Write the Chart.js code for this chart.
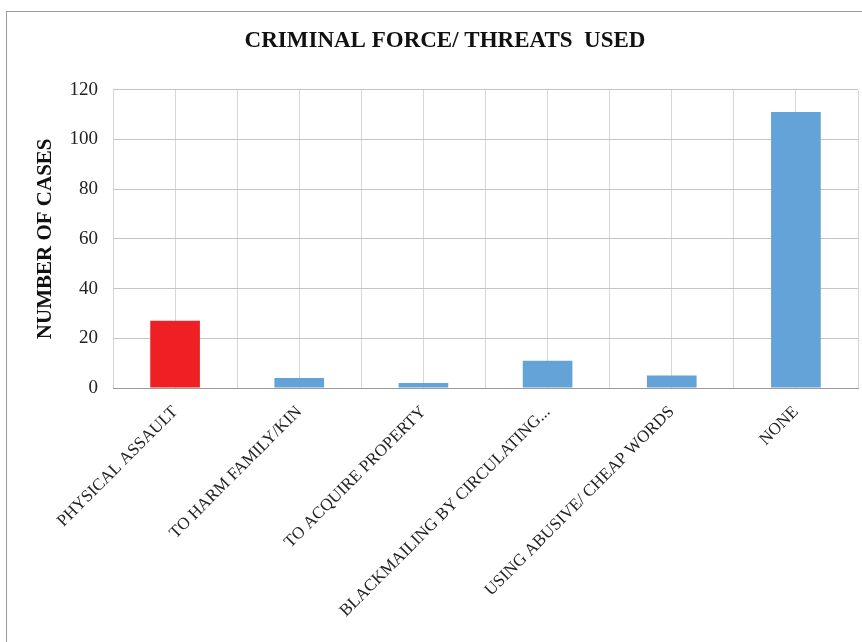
<!DOCTYPE html>
<html>
<head>
<meta charset="utf-8">
<script src="https://cdn.jsdelivr.net/npm/chart.js@4"></script>
<style>
    html, body { margin: 0; padding: 0; background: #fff; }
    #wrap { position: relative; width: 862px; height: 642px; overflow: hidden; }
    #frame { position: absolute; left: 6px; top: 11px; width: 900px; height: 700px; border: 1px solid #9a9a9a; }
    canvas { position: absolute; left: 0; top: 0; }
</style>
</head>
<body>
<div id="wrap">
    <div id="frame"></div>
    <!-- canvas runs past the right edge so the title centres on the whole frame -->
    <canvas id="threatsChart" width="890" height="642"></canvas>
</div>
<script>
// Categories and counts
const categories = [
    'PHYSICAL ASSAULT',
    'TO HARM FAMILY/KIN',
    'TO ACQUIRE PROPERTY',
    'BLACKMAILING BY CIRCULATING...',
    'USING ABUSIVE/ CHEAP WORDS',
    'NONE'
];
const cases = [27, 4, 2, 11, 5, 111];
const barColors = ['#ee2024', '#64a3d8', '#64a3d8', '#64a3d8', '#64a3d8', '#64a3d8'];

const yTicks = [0, 20, 40, 60, 80, 100, 120];

const SERIF = '"Liberation Serif", "Times New Roman", serif';

const ctx = document.getElementById('threatsChart').getContext('2d');
new Chart(ctx, {
    type: 'bar',
    data: {
        labels: categories,
        datasets: [{
            data: cases,
            backgroundColor: barColors,
            borderWidth: 0,
            categoryPercentage: 1.0,
            barPercentage: 0.4,
            xAxisID: 'x',
            yAxisID: 'y'
        }]
    },
    options: {
        responsive: false,
        animation: false,
        layout: { padding: 0 },
        plugins: {
            legend: { display: false },
            tooltip: { enabled: false },
            title: {
                display: true,
                text: 'CRIMINAL FORCE/ THREATS  USED',
                color: '#111',
                font: { family: SERIF, size: 23, weight: 'bold' },
                padding: { top: 27, bottom: 35 }
            }
        },
        scales: {
            // extra linear axis only used for vertical gridlines at centres and edges
            xg: {
                type: 'linear',
                position: 'top',
                offset: false,
                min: 0,
                max: 12,
                ticks: { display: false, stepSize: 1 },
                grid: { color: '#d6d6d6', drawTicks: false, offset: false },
                border: { display: false },
                afterFit: function(scale) { scale.height = 0; }
            },
            x: {
                position: 'bottom',
                grid: { display: false },
                border: { color: '#9a9a9a', width: 1 },
                ticks: {
                    color: '#222',
                    font: { family: SERIF, size: 17 },
                    minRotation: 45,
                    maxRotation: 45,
                    autoSkip: false,
                    padding: 6
                },
                afterFit: function(scale) { scale.height = 254; }
            },
            y: {
                min: 0,
                max: 120,
                afterBuildTicks: function(scale) {
                    scale.ticks = yTicks.map(v => ({ value: v }));
                },
                grid: { color: '#c4c4c4', drawTicks: false },
                border: { display: false },
                ticks: {
                    color: '#222',
                    font: { family: SERIF, size: 19 },
                    padding: 15
                },
                title: {
                    display: true,
                    text: 'NUMBER OF CASES',
                    color: '#111',
                    font: { family: SERIF, size: 21, weight: 'bold' },
                    padding: { top: 33, bottom: 0 }
                },
                afterFit: function(scale) { scale.width = 113; }
            },
            // blank right-hand gutter that ends the plot area just inside the frame
            yr: {
                position: 'right',
                min: 0,
                max: 120,
                ticks: { display: false },
                grid: { display: false, drawTicks: false },
                border: { display: false },
                afterFit: function(scale) { scale.width = 32; }
            }
        }
    }
});
</script>
</body>
</html>
